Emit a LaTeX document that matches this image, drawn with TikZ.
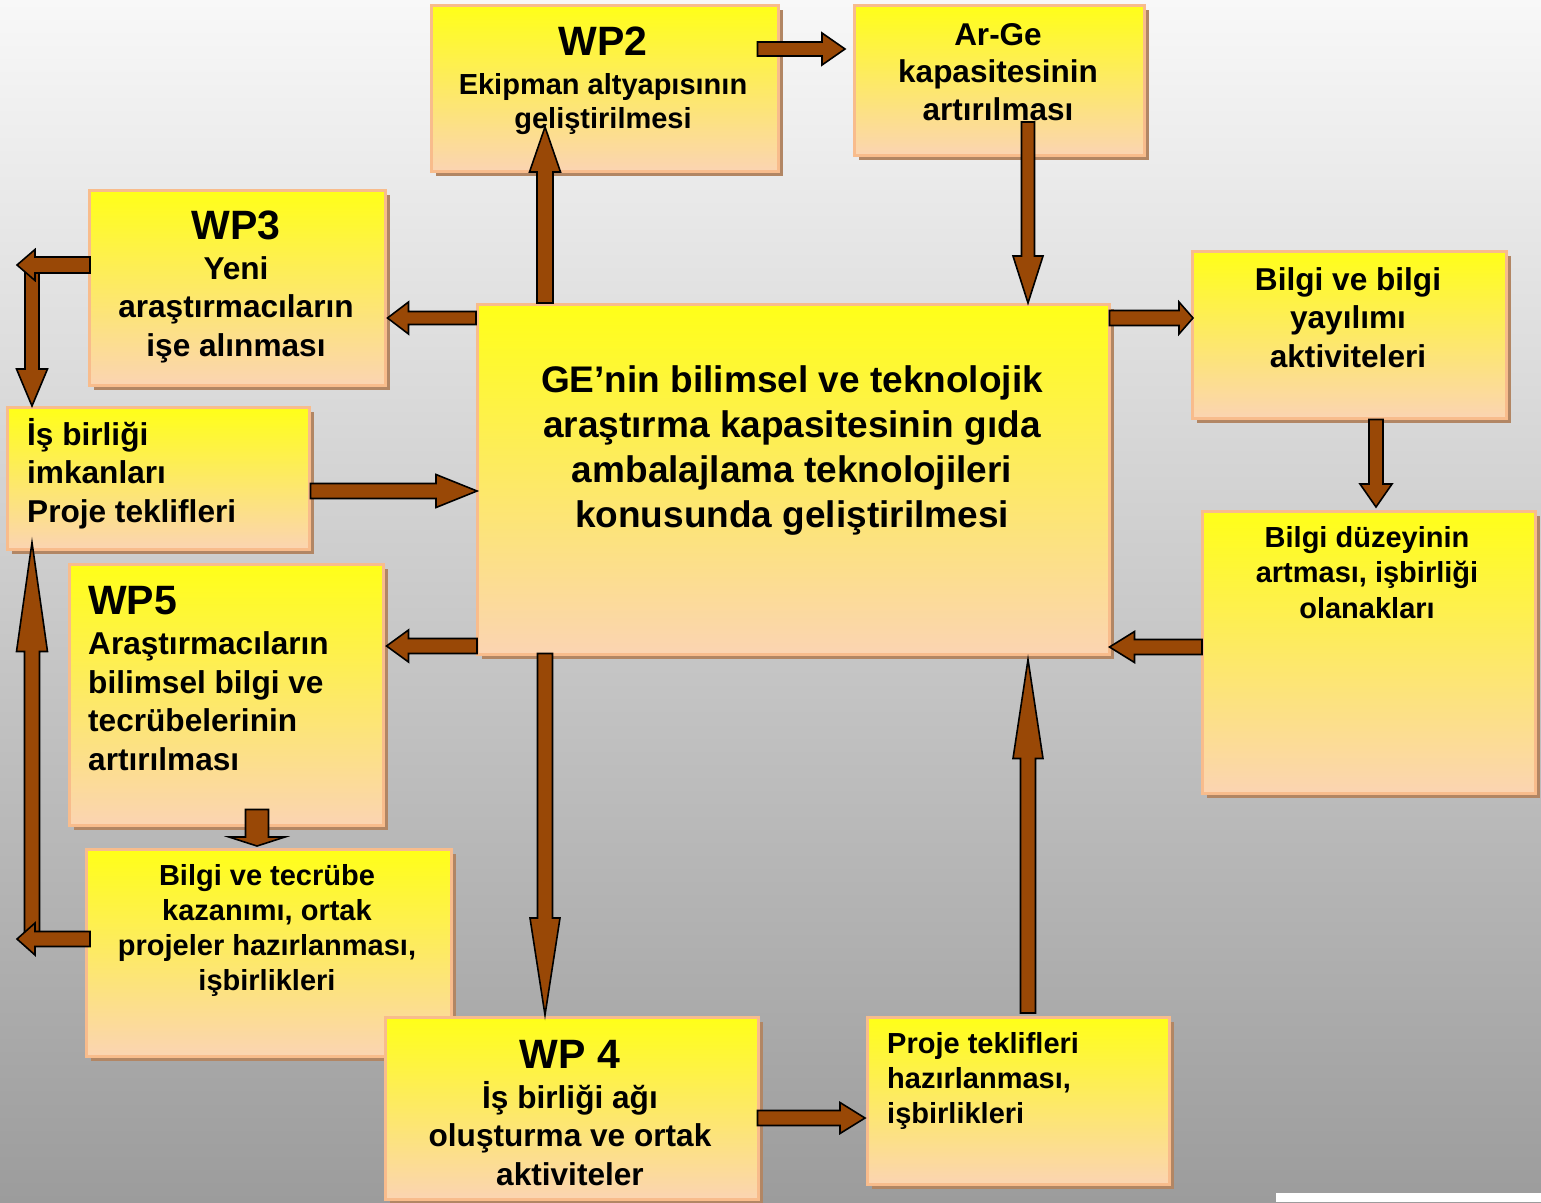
\documentclass[tikz,border=0pt]{standalone}
\usepackage{fontspec}
\setmainfont{Liberation Sans}
\usetikzlibrary{calc,shadows}

\definecolor{padtop}{RGB}{255,255,24}
\definecolor{padbot}{RGB}{251,212,178}
\definecolor{padrim}{RGB}{248,188,140}
\definecolor{padshade}{RGB}{178,134,100}
\definecolor{arrowbrown}{RGB}{153,72,6}
\definecolor{bgtop}{RGB}{248,248,248}
\definecolor{bgmid}{RGB}{214,214,214}
\definecolor{bgbot}{RGB}{156,156,156}

\tikzset{
  pad/.style={rectangle, draw=padrim, line width=2.5pt, top color=padtop, bottom color=padbot,
    anchor=north west, inner sep=0pt,
    drop shadow={shadow xshift=5pt, shadow yshift=-5pt, fill=padshade, opacity=1}},
  padtext/.style={inner sep=0pt, align=center, anchor=base, font=\bfseries\fontsize{31.6}{38.5}\selectfont},
  smalltext/.style={padtext, font=\bfseries\fontsize{29}{35}\selectfont},
  blockarrow/.style={draw=black, line width=1.6pt, fill=arrowbrown, line join=miter}
}
\newcommand\wptitle[1]{{\fontsize{41}{41}\selectfont #1}}

% block arrow: from, to, half shaft, half head, head length
\newcommand\barrow[5]{%
  \path let \p1=(#1), \p2=(#2),
    \n1={atan2(\y2-\y1,\x2-\x1)}, \n2={veclen(\x2-\x1,\y2-\y1)} in
    \pgfextra{\xdef\barAng{\n1}\xdef\barLen{\n2}};
  \begin{scope}[shift={(#1)}, rotate=\barAng]
    \draw[blockarrow] (0,-#3) -- ({\barLen-#5},-#3) -- ({\barLen-#5},-#4)
      -- (\barLen,0) -- ({\barLen-#5},#4) -- ({\barLen-#5},#3) -- (0,#3) -- cycle;
  \end{scope}}

\begin{document}
\begin{tikzpicture}[x=1pt, y=-1pt]
\useasboundingbox (0,0) rectangle (1541,1202);
\fill[top color=bgtop, middle color=bgmid, bottom color=bgbot] (0,0) rectangle (1541,1202);
\fill[white] (1276,1193) rectangle (1541,1202);

% boxes
\node[pad, minimum width=347, minimum height=166] (wp2) at (430,4) {};
\node[pad, minimum width=290, minimum height=150] (arge) at (853,4) {};
\node[pad, minimum width=296, minimum height=195] (wp3) at (88,189) {};
\node[pad, minimum width=302, minimum height=142] (isb) at (6,406) {};
\node[pad, minimum width=632, minimum height=350] (core) at (476,303) {};
\node[pad, minimum width=314, minimum height=167] (yayilim) at (1191,250) {};
\node[pad, minimum width=333, minimum height=282] (duzey) at (1201,510) {};
\node[pad, minimum width=314, minimum height=261] (wp5) at (68,563) {};
\node[pad, minimum width=365, minimum height=207] (tecrube) at (85,848) {};
\node[pad, minimum width=373, minimum height=182] (wp4) at (384,1016) {};
\node[pad, minimum width=302, minimum height=167] (proje) at (866,1016) {};

% texts (placed at the baseline of their last line)
\node[smalltext, font=\bfseries\fontsize{29}{33.5}\selectfont] (wp2txt) at (603,128)
  {\wptitle{WP2}\\[5.5pt] Ekipman altyapısının\\ geliştirilmesi};
\node[padtext, font=\bfseries\fontsize{31.5}{37.5}\selectfont] (argetxt) at (998,120)
  {Ar-Ge\\ kapasitesinin\\ artırılması};
\node[padtext] (wp3txt) at (236,356)
  {\wptitle{WP3}\\[1.5pt] Yeni\\ araştırmacıların\\ işe alınması};
\node[padtext, align=left, anchor=base west] (isbtxt) at (27,522)
  {İş birliği\\ imkanları\\ Proje teklifleri};
\node[padtext, font=\bfseries\fontsize{37}{45}\selectfont] (coretxt) at (792,527)
  {GE’nin bilimsel ve teknolojik\\ araştırma kapasitesinin gıda\\ ambalajlama teknolojileri\\ konusunda geliştirilmesi};
\node[padtext] (yayilimtxt) at (1348,367)
  {Bilgi ve bilgi\\ yayılımı\\ aktiviteleri};
\node[smalltext, font=\bfseries\fontsize{29}{35.5}\selectfont] (duzeytxt) at (1367,618)
  {Bilgi düzeyinin\\ artması, işbirliği\\ olanakları};
\node[padtext, align=left, anchor=base west] (wp5txt) at (88,770)
  {\wptitle{WP5}\\[1.5pt] Araştırmacıların\\ bilimsel bilgi ve\\ tecrübelerinin\\ artırılması};
\node[smalltext] (tecrubetxt) at (267,990)
  {Bilgi ve tecrübe\\ kazanımı, ortak\\ projeler hazırlanması,\\ işbirlikleri};
\node[padtext] (wp4txt) at (570,1185)
  {\wptitle{WP 4}\\[1.5pt] İş birliği ağı\\ oluşturma ve ortak\\ aktiviteler};
\node[smalltext, align=left, anchor=base west] (projetxt) at (887,1123)
  {Proje teklifleri\\ hazırlanması,\\ işbirlikleri};

% free ends on the left
\coordinate (railtop) at (32,268);
\coordinate (railbot) at (32,935);
\coordinate (wp3out) at (17,265);
\coordinate (tecrubeout) at (17,939);

% arrows
\barrow{railtop}{railtop |- isb.north}{7}{15.5}{37}
\barrow{railbot}{$(railbot |- isb.south)+(0,-8)$}{7.5}{15.5}{109}
\barrow{$(wp2.north east)+(-22,45)$}{$(arge.north west)+(-8,45)$}{7}{16}{23}
\barrow{$(core.north west)+(69,0)$}{$(wp2.north west)+(115,123)$}{8}{15.5}{45}
\barrow{$(arge.north west)+(175,118)$}{$(core.north west)+(552,0)$}{6.5}{15}{47}
\barrow{$(core.north west)+(0,15)$}{$(wp3.north east)+(1,129)$}{6.5}{16}{21}
\barrow{$(wp3.north west)+(2,76)$}{wp3out}{8}{15.5}{18}
\barrow{$(isb.north east)+(0,85)$}{$(core.north west)+(1,188)$}{7.5}{16.5}{41}
\barrow{$(core.north east)+(-1,15)$}{$(yayilim.north west)+(2,68)$}{7.5}{16}{14}
\barrow{$(yayilim.south west)+(185,0)$}{$(duzey.north west)+(175,-3)$}{7}{16}{23}
\barrow{$(duzey.north west)+(1,137)$}{$(core.north east)+(-1,344)$}{7.5}{15.5}{25}
\barrow{$(core.north west)+(1,343)$}{$(wp5.north east)+(2,83)$}{7.5}{16}{22}
\barrow{$(core.south west)+(69,-2)$}{$(wp4.north west)+(161,-1)$}{7.5}{15}{97}
\barrow{$(wp5.south west)+(189,-17)$}{$(tecrube.north west)+(172,-2)$}{11.5}{28}{9}
\barrow{$(tecrube.north west)+(5,91)$}{tecrubeout}{7.5}{16}{18}
\barrow{$(wp4.north east)+(-2,102)$}{$(proje.north west)+(-1,102)$}{7.5}{15.5}{25}
\barrow{$(proje.north west)+(162,-3)$}{$(core.south west)+(552,4)$}{7.5}{15}{99}
\end{tikzpicture}
\end{document}
